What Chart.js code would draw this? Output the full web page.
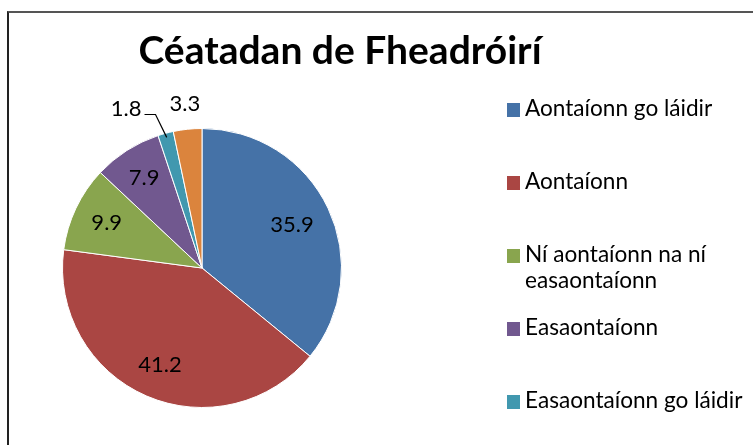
<!DOCTYPE html>
<html>
<head>
<meta charset="utf-8">
<title>Céatadan de Fheadróirí</title>
<script src="https://cdn.jsdelivr.net/npm/chart.js@4.4.0/dist/chart.umd.min.js"></script>
<style>
  html, body { margin: 0; padding: 0; background: #fff; overflow: hidden; }
  body { width: 753px; height: 445px; position: relative; font-family: Lato, sans-serif; color: #000; }
  #frame { position: absolute; left: 7px; top: 11px; width: 800px; height: 500px;
           border-left: 2px solid #222; border-top: 2px solid #555; }
  #pie { position: absolute; left: 0; top: 0; }
  #title { position: absolute; left: 0; top: 30px; width: 680px; text-align: center;
           font-weight: bold; font-size: 39px; line-height: 39px; }
  #legend { position: absolute; left: 507px; top: 95px; }
  .item { height: 73px; display: flex; align-items: flex-start; }
  .swatch { width: 13px; height: 14px; margin-top: 8px; margin-right: 5px; flex: none; }
  .text { width: 228px; font-size: 22.6px; line-height: 26px; }
</style>
</head>
<body>
<div id="frame"></div>
<canvas id="pie" width="753" height="445"></canvas>
<div id="title">Céatadan de Fheadróirí</div>
<div id="legend"></div>

<script>
const categories = [
    'Aontaíonn go láidir',
    'Aontaíonn',
    'Ní aontaíonn na ní easaontaíonn',
    'Easaontaíonn',
    'Easaontaíonn go láidir',
    'Gan freagra'
];
const percentages = [35.9, 41.2, 9.9, 7.9, 1.8, 3.3];
const sliceColors = ['#4572A7', '#AA4643', '#89A54E', '#71588F', '#4198AF', '#DB843D'];

// legend on the right
const legendEl = document.getElementById('legend');
categories.forEach((name, i) => {
    const div = document.createElement('div');
    div.className = 'item';
    div.innerHTML = `<span class="swatch" style="background:${sliceColors[i]}"></span><span class="text">${name}</span>`;
    legendEl.appendChild(div);
});

// value labels: inside the slice when it is big enough, outside otherwise
const valueLabels = {
    id: 'valueLabels',
    afterDatasetsDraw(chart) {
        const ctx = chart.ctx;
        const values = chart.data.datasets[0].data;
        ctx.save();
        ctx.font = '22px Lato';
        ctx.fillStyle = '#000';
        ctx.strokeStyle = '#000';
        ctx.lineWidth = 1.2;
        ctx.textBaseline = 'middle';

        chart.getDatasetMeta(0).data.forEach((arc, i) => {
            const {x, y, startAngle, endAngle, outerRadius} =
                arc.getProps(['x', 'y', 'startAngle', 'endAngle', 'outerRadius'], true);
            const mid = (startAngle + endAngle) / 2;
            const c = Math.cos(mid), s = Math.sin(mid);
            const text = values[i].toFixed(1);

            if (values[i] >= 5) {
                // keep the far corner of the text box a bit inside the rim
                const w = ctx.measureText(text).width / 2, h = 8;
                const limit = outerRadius * 0.88;
                const b = Math.abs(c) * w + Math.abs(s) * h;
                const d = -b + Math.sqrt(b * b - (w * w + h * h - limit * limit));
                ctx.textAlign = 'center';
                ctx.fillText(text, x + c * d, y + s * d);
            } else if (values[i] < 2.5) {
                // thin slice: leader line out to the left
                const x0 = x + c * outerRadius * 0.97, y0 = y + s * outerRadius * 0.97;
                const x1 = x + c * outerRadius * 1.14 - 5, y1 = y + s * outerRadius * 1.14;
                ctx.beginPath();
                ctx.moveTo(x0, y0);
                ctx.lineTo(x1, y1);
                ctx.lineTo(x1 - 11, y1);
                ctx.stroke();
                ctx.textAlign = 'right';
                ctx.fillText(text, x1 - 14, y1 - 6);
            } else {
                const d = outerRadius * 1.18;
                ctx.textAlign = 'center';
                ctx.fillText(text, x + c * d, y + s * d);
            }
        });
        ctx.restore();
    }
};

new Chart(document.getElementById('pie'), {
    type: 'pie',
    data: {
        labels: categories,
        datasets: [{
            data: percentages,
            backgroundColor: sliceColors,
            borderColor: '#ffffff',
            borderWidth: 1
        }]
    },
    options: {
        responsive: false,
        animation: false,
        layout: { padding: { left: 62, top: 128, right: 411, bottom: 37 } },
        plugins: {
            legend: { display: false },
            tooltip: { enabled: false },
            title: { display: false }
        }
    },
    plugins: [valueLabels]
});
</script>
</body>
</html>
